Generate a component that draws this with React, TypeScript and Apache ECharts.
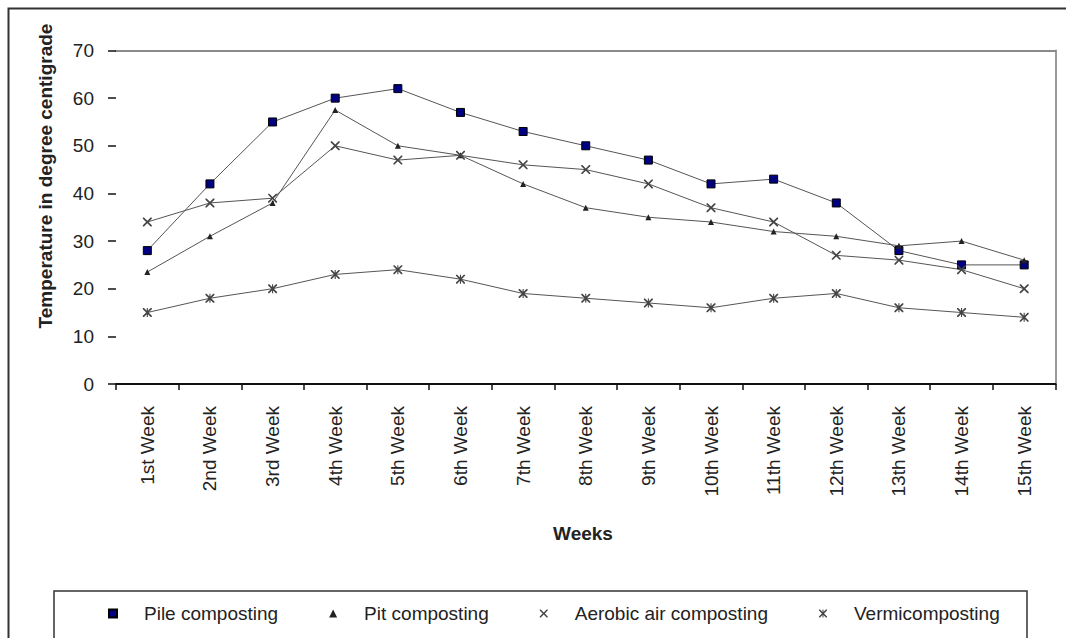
import React, { useEffect, useRef } from "react";
import * as echarts from "echarts";

const weeks = [
  "1st Week", "2nd Week", "3rd Week", "4th Week", "5th Week", "6th Week", "7th Week", "8th Week",
  "9th Week", "10th Week", "11th Week", "12th Week", "13th Week", "14th Week", "15th Week",
];
const pileComposting = [28, 42, 55, 60, 62, 57, 53, 50, 47, 42, 43, 38, 28, 25, 25];
const pitComposting = [23.5, 31, 38, 57.5, 50, 48, 42, 37, 35, 34, 32, 31, 29, 30, 26];
const aerobicComposting = [34, 38, 39, 50, 47, 48, 46, 45, 42, 37, 34, 27, 26, 24, 20];
const vermiComposting = [15, 18, 20, 23, 24, 22, 19, 18, 17, 16, 18, 19, 16, 15, 14];
const seriesNames = ["Pile composting", "Pit composting", "Aerobic air composting", "Vermicomposting"];
const yTicks = { min: 0, max: 70, interval: 10 };

const X_SYMBOL =
  "path://M0,0 L1.3,0 L5,3.7 L8.7,0 L10,0 L10,1.3 L6.3,5 L10,8.7 L10,10 L8.7,10 L5,6.3 L1.3,10 L0,10 L0,8.7 L3.7,5 L0,1.3 Z";
const STAR_SYMBOL =
  "path://M0,0 L1.3,0 L5,3.7 L8.7,0 L10,0 L10,1.3 L6.3,5 L10,8.7 L10,10 L8.7,10 L5,6.3 L1.3,10 L0,10 L0,8.7 L3.7,5 L0,1.3 Z M4.4,0 L5.6,0 L5.6,10 L4.4,10 Z";

const FONT = "'Liberation Sans', Arial, sans-serif";

export default function App() {
  const ref = useRef<HTMLDivElement>(null);
  useEffect(() => {
    if (!ref.current) return;
    const chart = echarts.init(ref.current, null, { renderer: "svg" });
    const lineStyle = { color: "#555", width: 1 };
    chart.setOption({
      animation: false,
      backgroundColor: "#fff",
      textStyle: { fontFamily: FONT },
      grid: { left: 116, right: 10.5, top: 50.5, bottom: 254, containLabel: false },
      xAxis: [
        {
          type: "category",
          data: weeks,
          boundaryGap: true,
          axisLine: { show: true, onZero: false, lineStyle: { color: "#111", width: 2 } },
          axisTick: { show: true, alignWithLabel: false, length: 6, lineStyle: { color: "#111", width: 1.5 } },
          axisLabel: { rotate: 90, fontSize: 19, color: "#222", margin: 22, fontFamily: FONT, interval: 0 },
          splitLine: { show: false },
        },
        {
          type: "category",
          data: weeks,
          position: "top",
          axisLine: { show: true, onZero: false, lineStyle: { color: "#8a8a8a", width: 2 } },
          axisTick: { show: false },
          axisLabel: { show: false },
          splitLine: { show: false },
        },
      ],
      yAxis: [
        {
          type: "value",
          min: yTicks.min,
          max: yTicks.max,
          interval: yTicks.interval,
          axisLine: { show: false },
          axisTick: { show: true, length: 8, lineStyle: { color: "#111", width: 1.5 } },
          axisLabel: { fontSize: 19, color: "#222", margin: 22, fontFamily: FONT },
          splitLine: { show: false },
        },
        {
          type: "value",
          min: yTicks.min,
          max: yTicks.max,
          interval: yTicks.interval,
          position: "right",
          axisLine: { show: true, onZero: false, lineStyle: { color: "#9a9a9a", width: 2 } },
          axisTick: { show: false },
          axisLabel: { show: false },
          splitLine: { show: false },
        },
      ],
      legend: {
        left: 108,
        top: 604,
        padding: 0,
        itemWidth: 8,
        itemHeight: 8,
        itemGap: 51,
        textStyle: { fontSize: 19, color: "#222", fontFamily: FONT, padding: [0, 0, 0, 22] },
        data: [
          { name: seriesNames[0], icon: "rect" },
          { name: seriesNames[1], icon: "triangle" },
          { name: seriesNames[2], icon: X_SYMBOL },
          { name: seriesNames[3], icon: STAR_SYMBOL },
        ],
      },
      series: [
        {
          name: seriesNames[0],
          type: "line",
          data: pileComposting,
          symbol: "rect",
          symbolSize: 8,
          itemStyle: { color: "#000080", borderColor: "#000", borderWidth: 1 },
          lineStyle,
        },
        {
          name: seriesNames[1],
          type: "line",
          data: pitComposting,
          symbol: "triangle",
          symbolSize: 6,
          itemStyle: { color: "#222" },
          lineStyle,
        },
        {
          name: seriesNames[2],
          type: "line",
          data: aerobicComposting,
          symbol: X_SYMBOL,
          symbolSize: 9,
          itemStyle: { color: "#444" },
          lineStyle,
        },
        {
          name: seriesNames[3],
          type: "line",
          data: vermiComposting,
          symbol: STAR_SYMBOL,
          symbolSize: 9,
          itemStyle: { color: "#444" },
          lineStyle,
        },
      ],
      graphic: [
        {
          type: "rect",
          shape: { x: 8.5, y: 8.5, width: 1200, height: 800 },
          style: { fill: "none", stroke: "#333", lineWidth: 2 },
          silent: true,
          z: -1,
        },
        {
          type: "rect",
          shape: { x: 54, y: 591, width: 973, height: 100 },
          style: { fill: "none", stroke: "#333", lineWidth: 1.5 },
          silent: true,
          z: -1,
        },
        {
          type: "text",
          x: 45,
          y: 176,
          rotation: Math.PI / 2,
          style: {
            text: "Temperature in degree centigrade",
            fontSize: 19,
            fontWeight: "bold",
            fontFamily: FONT,
            fill: "#222",
            align: "center",
            verticalAlign: "middle",
          },
        },
        {
          type: "text",
          x: 583,
          y: 533,
          style: {
            text: "Weeks",
            fontSize: 19,
            fontWeight: "bold",
            fontFamily: FONT,
            fill: "#222",
            align: "center",
            verticalAlign: "middle",
          },
        },
      ],
    });
    return () => chart.dispose();
  }, []);
  return (
    <div
      ref={ref}
      style={{ position: "fixed", left: 0, top: 0, width: 1066, height: 638 }}
    />
  );
}
